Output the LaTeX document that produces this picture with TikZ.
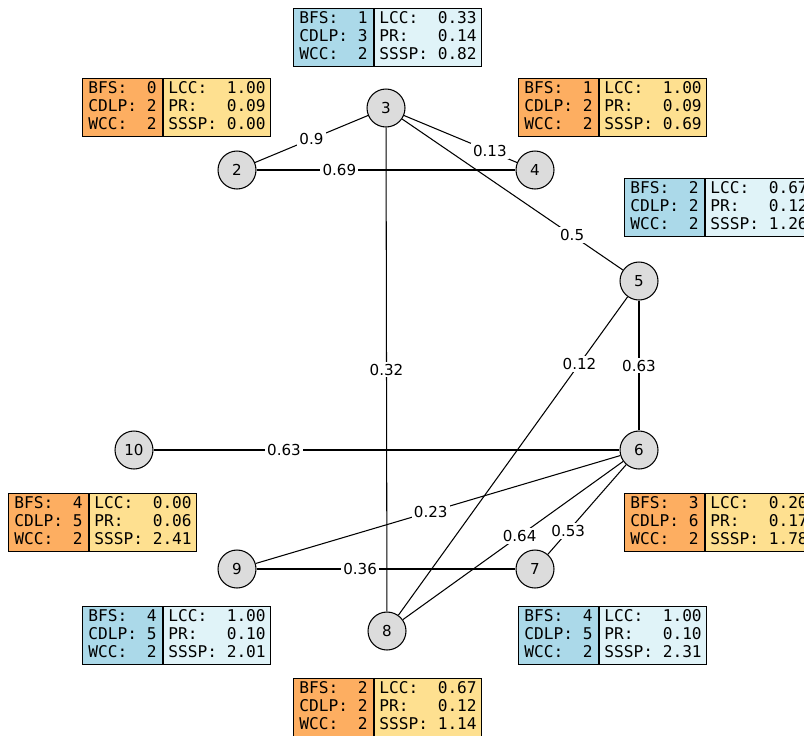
\documentclass[tikz,border=0pt]{standalone}
\usepackage{fontspec}
\setmainfont{DejaVu Sans}
\setmonofont{DejaVu Sans Mono}
\usepackage{tikz}
\usetikzlibrary{positioning}

\definecolor{nodegray}{HTML}{DCDCDC}
\definecolor{keyblue}{HTML}{ABD9E9}
\definecolor{valblue}{HTML}{E0F3F8}
\definecolor{keyorange}{HTML}{FDAE61}
\definecolor{valyellow}{HTML}{FEE090}

\newcommand{\statfont}{\ttfamily\fontsize{9.2}{10.2}\selectfont}
\newcommand{\keys}[3]{\begin{tabular}{@{}l@{\phantom{x}}r@{}}BFS: & #1\\CDLP: & #2\\WCC: & #3\end{tabular}}
\newcommand{\vals}[3]{\begin{tabular}{@{}l@{\phantom{x}}r@{}}LCC: & #1\\PR: & #2\\SSSP: & #3\end{tabular}}

\tikzset{
  vertex/.style={circle, draw, fill=nodegray, minimum size=0.76cm, inner sep=0pt,
    font=\fontsize{8.6}{10}\selectfont},
  weight/.style={fill=white, inner sep=1.2pt, font=\fontsize{8.6}{10}\selectfont},
  keybox/.style={draw, anchor=north west, minimum width=1.6cm, minimum height=1.16cm,
    inner sep=0pt, font=\statfont},
  valbox/.style={draw, right=0pt of #1, minimum width=2.14cm, minimum height=1.16cm,
    inner sep=0pt, font=\statfont},
}

\begin{document}
\begin{tikzpicture}[x=0.02cm, y=-0.02cm, line width=0.6pt]
    \clip (0,0) rectangle (804,735);
    % Nodes
    \node [vertex] (n3) at (386,108) {3};
    \node [vertex] (n2) at (237,170) {2};
    \node [vertex] (n4) at (535,170) {4};
    \node [vertex] (n5) at (639,281) {5};
    \node [vertex] (n6) at (639,450) {6};
    \node [vertex] (n10) at (134,450) {10};
    \node [vertex] (n9) at (237,569) {9};
    \node [vertex] (n7) at (535,569) {7};
    \node [vertex] (n8) at (387,631) {8};
    % Edges
    \draw (n2) -- node [weight] {0.9} (n3);
    \draw (n2) -- node [weight, pos=0.32] {0.69} (n4);
    \draw (n3) -- node [weight, pos=0.76] {0.13} (n4);
    \draw (n3) -- node [weight, pos=0.77] {0.5} (n5);
    \draw (n3) -- node [weight] {0.32} (n8);
    \draw (n5) -- node [weight] {0.63} (n6);
    \draw (n5) -- node [weight, pos=0.21] {0.12} (n8);
    \draw (n6) -- node [weight, pos=0.72] {0.63} (n10);
    \draw (n6) -- node [weight, pos=0.52] {0.23} (n9);
    \draw (n6) -- node [weight, pos=0.47] {0.64} (n8);
    \draw (n6) -- node [weight, pos=0.74] {0.53} (n7);
    \draw (n9) -- node [weight, pos=0.40] {0.36} (n7);
    % Stats
    \node [keybox, fill=keyblue] (k3) at (293,8) {\keys{1}{3}{2}};
    \node [valbox=k3, fill=valblue] (v3) {\vals{0.33}{0.14}{0.82}};
    \node [keybox, fill=keyorange] (k2) at (82,78) {\keys{0}{2}{2}};
    \node [valbox=k2, fill=valyellow] (v2) {\vals{1.00}{0.09}{0.00}};
    \node [keybox, fill=keyorange] (k4) at (518,78) {\keys{1}{2}{2}};
    \node [valbox=k4, fill=valyellow] (v4) {\vals{1.00}{0.09}{0.69}};
    \node [keybox, fill=keyblue] (k5) at (624,178) {\keys{2}{2}{2}};
    \node [valbox=k5, fill=valblue] (v5) {\vals{0.67}{0.12}{1.26}};
    \node [keybox, fill=keyorange] (k6) at (624,493) {\keys{3}{6}{2}};
    \node [valbox=k6, fill=valyellow] (v6) {\vals{0.20}{0.17}{1.78}};
    \node [keybox, fill=keyorange] (k10) at (8,493) {\keys{4}{5}{2}};
    \node [valbox=k10, fill=valyellow] (v10) {\vals{0.00}{0.06}{2.41}};
    \node [keybox, fill=keyblue] (k9) at (82,606) {\keys{4}{5}{2}};
    \node [valbox=k9, fill=valblue] (v9) {\vals{1.00}{0.10}{2.01}};
    \node [keybox, fill=keyblue] (k7) at (518,606) {\keys{4}{5}{2}};
    \node [valbox=k7, fill=valblue] (v7) {\vals{1.00}{0.10}{2.31}};
    \node [keybox, fill=keyorange] (k8) at (293,678) {\keys{2}{2}{2}};
    \node [valbox=k8, fill=valyellow] (v8) {\vals{0.67}{0.12}{1.14}};
\end{tikzpicture}
\end{document}
